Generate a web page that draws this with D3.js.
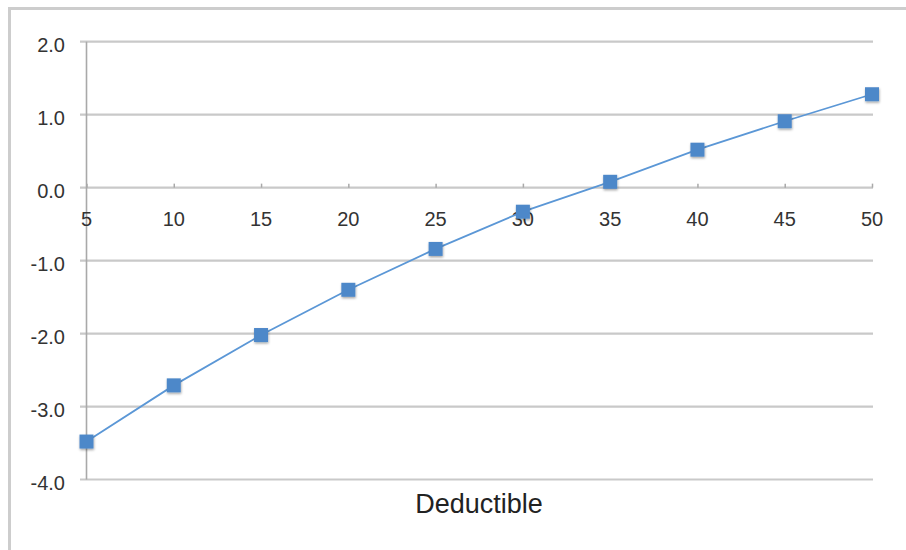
<!DOCTYPE html>
<html>
<head>
<meta charset="utf-8">
<script src="https://cdn.jsdelivr.net/npm/d3@7"></script>
<style>
  html, body { margin: 0; padding: 0; background: #fff; }
  svg { display: block; font-family: "Liberation Sans", Arial, Helvetica, sans-serif; }
</style>
</head>
<body>
<svg id="chart" width="906" height="550"></svg>
<script>
// Data
const deductibles = [5, 10, 15, 20, 25, 30, 35, 40, 45, 50];
const values = [-3.48, -2.71, -2.02, -1.40, -0.84, -0.33, 0.08, 0.52, 0.91, 1.28];
const yTicks = [-4, -3, -2, -1, 0, 1, 2];
const xTicks = [5, 10, 15, 20, 25, 30, 35, 40, 45, 50];
const xTitle = "Deductible";

const svg = d3.select("#chart");

const x = d3.scaleLinear().domain([5, 50]).range([86.5, 872]);
const y = d3.scaleLinear().domain([-4, 2]).range([479.5, 41.7]);

// shadow filter
const defs = svg.append("defs");
const f = defs.append("filter").attr("id", "shadow").attr("x", "-50%").attr("y", "-50%").attr("width", "200%").attr("height", "200%");
f.append("feDropShadow").attr("dx", 0.5).attr("dy", 1.5).attr("stdDeviation", 1.2).attr("flood-color", "#000").attr("flood-opacity", 0.35);

// outer border (cropped at right/bottom)
svg.append("path")
  .attr("d", "M9.5,560 L9.5,8.5 L920,8.5")
  .attr("fill", "none").attr("stroke", "#cdcdcd").attr("stroke-width", 3);

// gridlines (extend left as y-axis ticks)
svg.append("g").selectAll("line.grid")
  .data(yTicks)
  .join("line")
  .attr("class", "grid")
  .attr("x1", 80).attr("x2", x(50) + 1)
  .attr("y1", d => y(d)).attr("y2", d => y(d))
  .attr("stroke", "#c9c9c9").attr("stroke-width", 2.2);

// y axis line
svg.append("line")
  .attr("x1", x(5)).attr("x2", x(5))
  .attr("y1", y(2)).attr("y2", y(-4))
  .attr("stroke", "#a9a9a9").attr("stroke-width", 1.6);

// y axis labels (ASCII hyphen for minus)
const fmt = d3.format(".1f");
const yAxis = d3.axisLeft(y).tickValues(yTicks).tickSize(0).tickPadding(0)
  .tickFormat(d => fmt(d).replace("\u2212", "-"));
const gy = svg.append("g").attr("transform", "translate(65,0)").call(yAxis);
gy.select(".domain").remove();
gy.selectAll("text")
  .attr("font-size", 20).attr("fill", "#333")
  .attr("font-family", "\"Liberation Sans\", Arial, sans-serif")
  .attr("dy", "0.48em");

// x axis at y=0
const xAxis = d3.axisTop(x).tickValues(xTicks).tickSize(4).tickFormat("");
const gx = svg.append("g").attr("transform", `translate(0,${y(0)})`).call(xAxis);
gx.select(".domain").remove();
gx.selectAll(".tick line").attr("stroke", "#a9a9a9").attr("stroke-width", 1.5);

// x tick labels below axis
svg.append("g").selectAll("text.xl")
  .data(xTicks)
  .join("text")
  .attr("class", "xl")
  .attr("x", d => x(d))
  .attr("y", y(0) + 38)
  .attr("text-anchor", "middle")
  .attr("font-size", 20)
  .attr("fill", "#333")
  .text(d => d);

// x title
svg.append("text")
  .attr("x", 479)
  .attr("y", 513)
  .attr("text-anchor", "middle")
  .attr("font-size", 27)
  .attr("fill", "#222")
  .text(xTitle);

// line
const line = d3.line().x((d, i) => x(deductibles[i])).y(d => y(d));
svg.append("path")
  .datum(values)
  .attr("d", line)
  .attr("fill", "none")
  .attr("stroke", "#5b97d6")
  .attr("stroke-width", 1.8);

// markers
const ms = 14;
svg.append("g").selectAll("rect.m")
  .data(values)
  .join("rect")
  .attr("class", "m")
  .attr("x", (d, i) => x(deductibles[i]) - ms / 2)
  .attr("y", d => y(d) - ms / 2)
  .attr("width", ms).attr("height", ms)
  .attr("fill", "#4e88c9")
  .attr("filter", "url(#shadow)");
</script>
</body>
</html>
